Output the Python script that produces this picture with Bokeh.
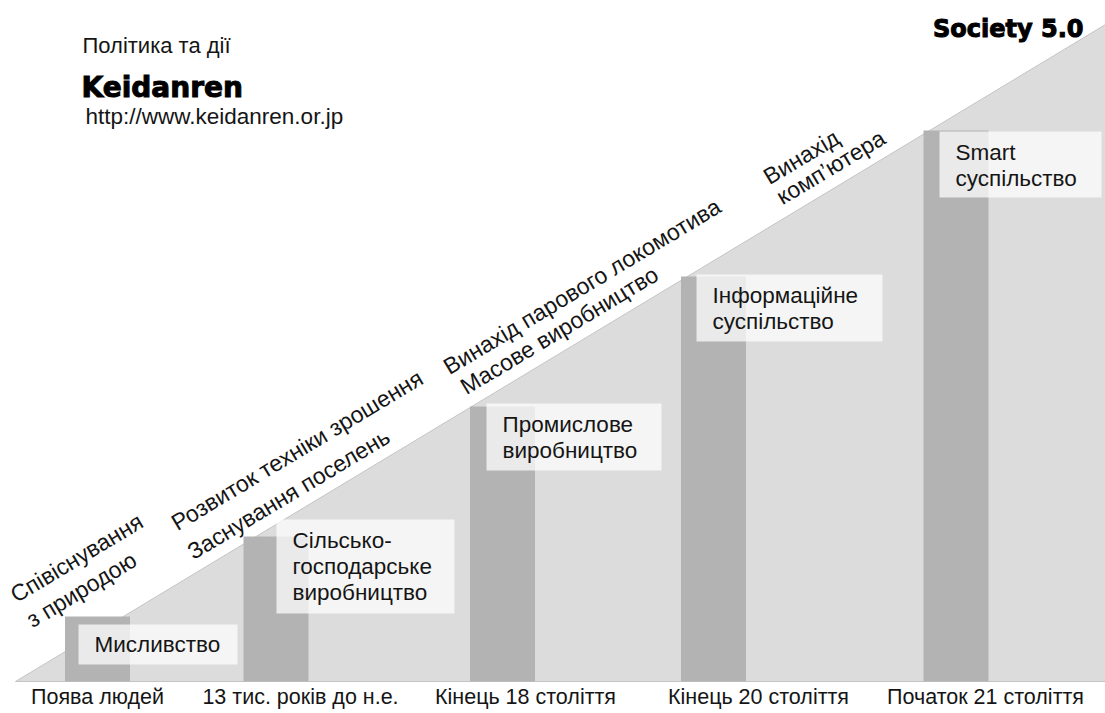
from bokeh.plotting import figure
from bokeh.models import Range1d, ColumnDataSource
from bokeh.core.properties import value
from bokeh.embed import file_html
from bokeh.resources import INLINE

# ---- data ----
categories = ["Поява людей", "13 тис. років до н.е.", "Кінець 18 століття",
              "Кінець 20 століття", "Початок 21 століття"]
category_x = [97, 300, 525, 758, 985]

bar_x = [97, 275.5, 502, 713, 955.5]
bar_height = [65, 145, 275, 405, 551]

stage_lines = [["Мисливство"],
               ["Сільсько-", "господарське", "виробництво"],
               ["Промислове", "виробництво"],
               ["Інформаційне", "суспільство"],
               ["Smart", "суспільство"]]
box_left = [78, 276, 486, 696, 939]
box_right = [237, 454, 661, 882, 1101]
box_top = [57, 162, 278, 407, 550]
box_bottom = [17, 68, 211, 340, 484]

event_lines = ["Співіснування", "з природою",
               "Розвиток техніки зрошення", "Заснування поселень",
               "Винахід парового локомотива", "Масове виробництво",
               "Винахід", "комп’ютера"]
event_x = [12, 28, 173, 189, 445, 462, 765, 778]
event_y = [85, 60, 157, 128, 313, 293, 503, 483]

slope_x = [15, 1110, 1110]
slope_y = [0, 660, 0]

FONT = value("Liberation Sans")
BOLD = value("DejaVu Sans")

p = figure(width=1105, height=713, output_backend="svg", toolbar_location=None,
           x_range=Range1d(0, 1105), y_range=Range1d(-32, 681),
           x_axis_location=None, y_axis_location=None, min_border=0)
p.outline_line_color = None
p.xgrid.visible = False
p.ygrid.visible = False
p.background_fill_color = "white"

# rising triangle
p.patch(slope_x, slope_y, fill_color="#dcdcdc", line_color="#c4c4c4", line_width=1)

# bars
src = ColumnDataSource(dict(x=bar_x, top=bar_height))
p.vbar(x="x", top="top", bottom=0, width=65, source=src,
       fill_color="#b3b3b3", line_color=None)

# semi-transparent label boxes
p.quad(left=box_left, right=box_right, top=box_top, bottom=box_bottom,
       fill_color="white", fill_alpha=0.72, line_color=None)

# stage labels
tx, ty, tt = [], [], []
for lines, left, top in zip(stage_lines, box_left, box_top):
    n = len(lines)
    for i, s in enumerate(lines):
        tx.append(left + 16)
        tt.append(s)
        if n == 1:
            ty.append(top - 20)
        else:
            ty.append(top - 21 - i * 26)
p.text(x=tx, y=ty, text=tt, text_font=FONT, text_font_size="22.5px",
       text_color="#151515", text_align="left", text_baseline="middle")

# event labels along the slope
p.text(x=event_x, y=event_y, text=event_lines, angle=31, angle_units="deg",
       text_font=FONT, text_font_size="23px", text_color="#151515",
       text_align="left", text_baseline="alphabetic")

# category labels
p.text(x=category_x, y=[-15] * len(categories), text=categories, text_font=FONT,
       text_font_size="21.5px", text_color="#151515", text_align="center",
       text_baseline="middle")

# header texts
p.text(x=[82], y=[681 - 45], text=["Політика та дії"], text_font=FONT,
       text_font_size="22px", text_color="#151515", text_baseline="middle")
p.text(x=[81], y=[681 - 87], text=["Keidanren"], text_font=BOLD,
       text_font_style="bold", text_font_size="28px", text_color="#000000",
       text_outline_color="#000000", text_baseline="middle")
p.text(x=[85], y=[681 - 116], text=["http://www.keidanren.or.jp"], text_font=FONT,
       text_font_size="22.5px", text_color="#151515", text_baseline="middle")
p.text(x=[1083], y=[681 - 28], text=["Society 5.0"], text_font=BOLD,
       text_font_style="bold", text_font_size="24px", text_color="#000000",
       text_outline_color="#000000", text_align="right", text_baseline="middle")

open("out.html", "w").write(file_html(p, INLINE))
